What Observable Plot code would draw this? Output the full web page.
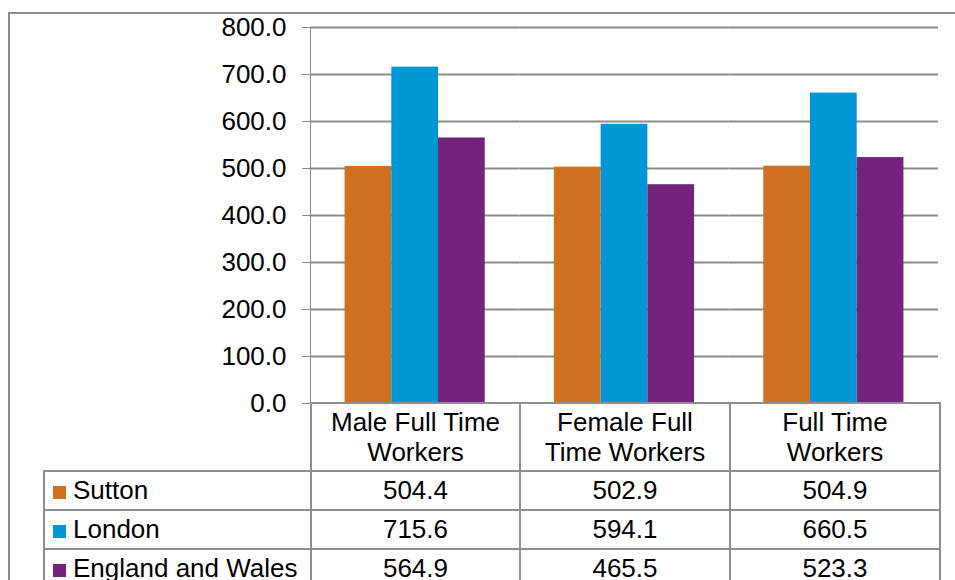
<!DOCTYPE html>
<html>
<head>
<meta charset="utf-8">
<script src="https://cdn.jsdelivr.net/npm/d3@7"></script>
<script src="https://cdn.jsdelivr.net/npm/@observablehq/plot@0.6"></script>
<style>
  html, body { margin: 0; padding: 0; background: #fff; overflow: hidden; }
  body { width: 955px; height: 580px; position: relative; font-family: "Liberation Sans", Arial, sans-serif; }
  #frame {
    position: absolute; left: 8px; top: 12px; width: 1000px; height: 700px;
    border-left: 2px solid #8c8c8c; border-top: 2px solid #8c8c8c; box-sizing: border-box;
  }
  #chart { position: absolute; left: 0; top: 0; }
  #chart svg { color: #8c8c8c; }
  #chart svg text { fill: #000; }
  #datatable {
    position: absolute; left: 43px; top: 402px;
    border-collapse: collapse; table-layout: fixed; width: 896px;
    font-size: 26px; color: #000;
  }
  #datatable td, #datatable th {
    border: 2px solid #8f8f8f; padding: 0; text-align: center; font-weight: normal;
    overflow: hidden; white-space: nowrap;
  }
  #datatable th { height: 66px; line-height: 30px; white-space: pre-line; background: #fff; }
  #datatable th.blank { border: none; background: transparent; }
  #datatable td { height: 37px; line-height: 37px; background: #fff; }
  #datatable td.name { text-align: left; }
  .key { display: inline-block; width: 13px; height: 13px; margin: 0 7px 0 8px; vertical-align: 0px; }
</style>
</head>
<body>
<div id="frame"></div>
<div id="chart"></div>
<table id="datatable"></table>
<script>
// Average weekly earnings (£) by worker group
const categories = ["Male Full Time Workers", "Female Full Time Workers", "Full Time Workers"];
const categoryLines = ["Male Full Time\nWorkers", "Female Full\nTime Workers", "Full Time\nWorkers"];
const series = ["Sutton", "London", "England and Wales"];
const colours = ["#d1711f", "#0096d6", "#73237c"];
const sutton = [504.4, 502.9, 504.9];
const london = [715.6, 594.1, 660.5];
const englandWales = [564.9, 465.5, 523.3];
const yTicks = [0, 100, 200, 300, 400, 500, 600, 700, 800];

const valuesBySeries = [sutton, london, englandWales];
const rows = [];
categories.forEach((c, i) => {
  series.forEach((s, j) => rows.push({category: c, series: s, value: valuesBySeries[j][i]}));
});

const chart = Plot.plot({
  width: 955,
  height: 424,
  marginLeft: 310,
  marginRight: 17,
  marginTop: 27,
  marginBottom: 21,
  style: {fontFamily: '"Liberation Sans", Arial, sans-serif', fontSize: "26px", background: "transparent"},
  facet: {data: rows, x: "category"},
  fx: {domain: categories, padding: 0, round: false, axis: null, label: null},
  x: {domain: series, paddingInner: 0, paddingOuter: 0.74, round: false, axis: null},
  y: {
    domain: [0, 800], ticks: yTicks, tickFormat: d => d.toFixed(1),
    tickSize: 8, tickPadding: 16, line: true, label: null
  },
  color: {domain: series, range: colours},
  marks: [
    Plot.ruleY(yTicks.filter(d => d > 0), {stroke: "#8c8c8c", strokeWidth: 2}),
    Plot.barY(rows, {x: "series", y: "value", fill: "series"})
  ]
});
document.getElementById("chart").appendChild(chart);

// Data table beneath the plot
const table = document.getElementById("datatable");
const colgroup = document.createElement("colgroup");
[267, 209, 210, 210].forEach(w => {
  const col = document.createElement("col");
  col.style.width = w + "px";
  colgroup.appendChild(col);
});
table.appendChild(colgroup);

const head = document.createElement("tr");
const blank = document.createElement("th");
blank.className = "blank";
head.appendChild(blank);
categoryLines.forEach(label => {
  const th = document.createElement("th");
  th.textContent = label;
  head.appendChild(th);
});
table.appendChild(head);

series.forEach((s, j) => {
  const tr = document.createElement("tr");
  const name = document.createElement("td");
  name.className = "name";
  const key = document.createElement("span");
  key.className = "key";
  key.style.background = colours[j];
  name.appendChild(key);
  name.appendChild(document.createTextNode(s));
  tr.appendChild(name);
  valuesBySeries[j].forEach(v => {
    const td = document.createElement("td");
    td.textContent = v.toFixed(1);
    tr.appendChild(td);
  });
  table.appendChild(tr);
});
</script>
</body>
</html>
